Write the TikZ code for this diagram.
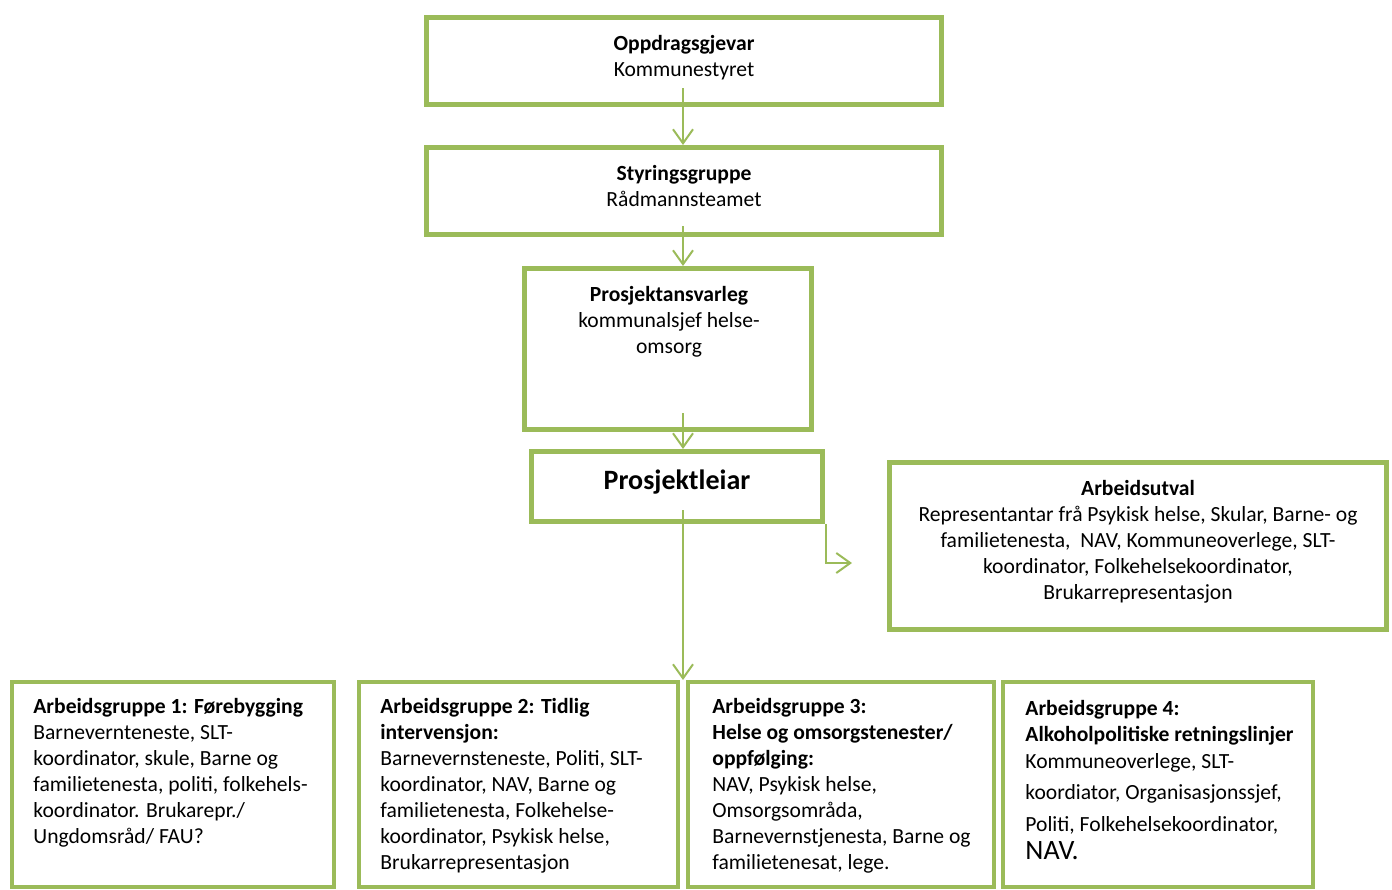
\documentclass[tikz,border=0pt]{standalone}
\usepackage{fontspec}
\setmainfont{Carlito}
\usetikzlibrary{arrows.meta, positioning, calc}
\definecolor{office-green}{HTML}{9BBB59}

\tikzset{
  box/.style={draw=office-green, line width=2.5pt, inner sep=0pt},
  groupbox/.style={draw=office-green, line width=2pt, inner sep=0pt, minimum height=102.5pt},
  arr/.style={-{Straight Barb[length=7pt,width=10pt]}, draw=office-green, line width=1pt},
  txt/.style={inner sep=0pt, font=\fontsize{10.8}{13}\selectfont, anchor=base, align=center},
  grouptxt/.style={txt, anchor=base west, align=left},
}

\begin{document}
\begin{tikzpicture}[x=0.5pt, y=-0.5pt]
\useasboundingbox (0,0) rectangle (1392,889);
% chain of command
\node[box, minimum width=257.5pt, minimum height=43.5pt] (oppd) at (684,61) {};
\node[box, minimum width=257.5pt, minimum height=43.5pt, below=19pt of oppd] (styr) {};
\node[box, minimum width=143.5pt, minimum height=80.5pt, below=14.5pt of styr, xshift=-8pt] (ansv) {};
\node[box, minimum width=145.5pt, minimum height=35pt, below=8.5pt of ansv, xshift=4.5pt] (leiar) {};
\node[box, minimum width=248.5pt, minimum height=83.5pt] (utval) at (1138,546) {};
% working groups
\node[groupbox, minimum width=161pt] (ag1) at (173,784.5) {};
\node[groupbox, minimum width=159.5pt] (ag2) at (518.5,784.5) {};
\node[groupbox, minimum width=153pt] (ag3) at (841,784.5) {};
\node[groupbox, minimum width=155pt] (ag4) at (1158,784.5) {};

% texts, placed at the baseline of their last line
\node[txt] (oppdtxt) at (684,76) {\textbf{Oppdragsgjevar}\\Kommunestyret};
\node[txt] (styrtxt) at (684,206) {\textbf{Styringsgruppe}\\Rådmannsteamet};
\node[txt] (ansvtxt) at (669,353) {\textbf{Prosjektansvarleg}\\kommunalsjef helse-\\omsorg};
\node[txt, font=\fontsize{14}{17}\selectfont\bfseries] (leiartxt) at (677,489) {Prosjektleiar};
\node[txt] (utvaltxt) at (1138,599) {\textbf{Arbeidsutval}\\Representantar frå Psykisk helse, Skular, Barne- og\\familietenesta,\ \ NAV, Kommuneoverlege, SLT-\\koordinator, Folkehelsekoordinator,\\Brukarrepresentasjon};
\node[grouptxt] (ag1txt) at (33,843) {\textbf{Arbeidsgruppe 1: Førebygging}\\Barnevernteneste, SLT-\\koordinator, skule, Barne og\\familietenesta, politi, folkehels-\\koordinator. Brukarepr./\\Ungdomsråd/ FAU?};
\node[grouptxt] (ag2txt) at (380,869) {\textbf{Arbeidsgruppe 2: Tidlig}\\\textbf{intervensjon:}\\Barnevernsteneste, Politi, SLT-\\koordinator, NAV, Barne og\\familietenesta, Folkehelse-\\koordinator, Psykisk helse,\\Brukarrepresentasjon};
\node[grouptxt] (ag3txt) at (712,869) {\textbf{Arbeidsgruppe 3:}\\\textbf{Helse og omsorgstenester/}\\\textbf{oppfølging:}\\NAV, Psykisk helse,\\Omsorgsområda,\\Barnevernstjenesta, Barne og\\familietenesat, lege.};
\node[grouptxt] (ag4txt) at (1025,859) {\textbf{Arbeidsgruppe 4:}\\\textbf{Alkoholpolitiske retningslinjer}\\[0.5pt]Kommuneoverlege, SLT-\\[2.5pt]koordiator, Organisasjonssjef,\\[3pt]Politi, Folkehelsekoordinator,\\[1pt]{\fontsize{14}{17}\selectfont NAV.}};

% arrows
\draw[arr] ($(oppd.south)+(-1,-19)$) -- ($(styr.north)+(-1,0)$);
\draw[arr] ($(styr.south)+(-1,-11)$) -- ($(ansv.north)+(15,0)$);
\draw[arr] ($(ansv.south)+(15,-19)$) -- ($(leiar.north)+(6,0)$);
\draw[arr] ($(leiar.south)+(6,-14)$) -- ($(ag3.north west)+(-3,0)$);
\coordinate (utvalpil) at (852,563);
\draw[arr] ($(leiar.south east)+(1,0)$) |- (utvalpil);
\end{tikzpicture}
\end{document}
